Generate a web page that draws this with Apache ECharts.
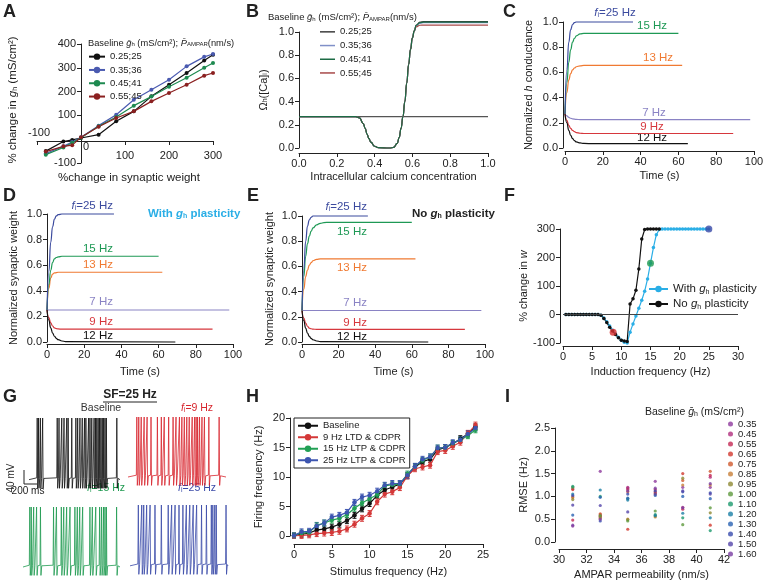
<!DOCTYPE html>
<html>
<head>
<meta charset="utf-8">
<title>gh plasticity figure</title>
<script src="https://cdn.jsdelivr.net/npm/echarts@6/dist/echarts.min.js"></script>
<style>
  html, body { margin: 0; padding: 0; background: #fff; }
  #chart { width: 771px; height: 585px; }
</style>
</head>
<body>
<div id="chart"></div>
<script>
// ---------- data ----------
// A: % change in gh vs % change in synaptic weight
const aWeight = [-80, -40, -20, 0, 40, 80, 120, 160, 200, 240, 280, 300];
const aBlack = [-50, -10, -3, 5, 19, 75, 117, 180, 229, 278, 331, 355];
const aBlue  = [-60, -30, -12, 8, 57, 103, 166, 208, 250, 306, 346, 358];
const aGreen = [-65, -35, -15, 6, 54, 93, 141, 179, 220, 258, 300, 320];
const aRed   = [-52, -30, -25, 8, 52, 89, 117, 159, 194, 229, 267, 278];
const aNames = ['0.25;25', '0.35;36', '0.45;41', '0.55;45'];

// B: Omega_h([Ca]i)
const bCa     = [0, 0.30, 0.32, 0.34, 0.35, 0.36, 0.37, 0.38, 0.40, 0.42, 0.48, 0.50, 0.52, 0.53, 0.54, 0.55, 0.56, 0.57, 0.58, 0.59, 0.60, 0.61];
const bShared = [0.27, 0.27, 0.26, 0.21, 0.17, 0.12, 0.08, 0.05, 0.015, 0.003, 0.0, 0.005, 0.04, 0.09, 0.17, 0.27, 0.40, 0.56, 0.72, 0.85, 0.95, 1.01];
const bTailCa = [0.62, 0.64, 0.66, 1.0];
const bTailBlack = [1.06, 1.085, 1.09, 1.09];
const bTailBlue  = [1.055, 1.075, 1.08, 1.08];
const bTailGreen = [1.058, 1.08, 1.085, 1.085];
const bTailRed   = [1.045, 1.058, 1.06, 1.06];
const bRefLevel = 0.27;

// C: normalized h conductance vs time
const c25t = [0, 1, 2, 3, 4, 5, 6, 8, 36];            const c25 = [0.27, 0.62, 0.84, 0.94, 0.98, 0.995, 1, 1, 1];
const c15t = [0, 1, 2, 3, 4, 5, 6, 8, 10, 15, 60];    const c15 = [0.27, 0.52, 0.68, 0.78, 0.84, 0.87, 0.89, 0.905, 0.91, 0.91, 0.91];
const c13t = [0, 1, 2, 3, 4, 5, 6, 8, 10, 15, 62];    const c13 = [0.27, 0.44, 0.54, 0.59, 0.62, 0.635, 0.645, 0.652, 0.655, 0.655, 0.655];
const c7t  = [0, 1, 2, 3, 4, 6, 8, 98];               const c7  = [0.27, 0.255, 0.243, 0.236, 0.231, 0.227, 0.225, 0.225];
const c9t  = [0, 1, 2, 3, 4, 5, 6, 8, 10, 89];        const c9  = [0.27, 0.22, 0.18, 0.155, 0.14, 0.13, 0.122, 0.117, 0.115, 0.115];
const c12t = [0, 1, 2, 3, 4, 5, 6, 8, 10, 15, 65];    const c12 = [0.27, 0.2, 0.14, 0.1, 0.075, 0.058, 0.048, 0.04, 0.036, 0.035, 0.035];

// D: synaptic weight, with gh plasticity
const d25t = [0, 1, 2, 3, 4, 5, 6, 8, 36];            const d25 = [0.25, 0.55, 0.78, 0.9, 0.96, 0.985, 0.995, 1, 1];
const d15t = [0, 1, 2, 3, 4, 5, 6, 8, 10, 60];        const d15 = [0.25, 0.45, 0.56, 0.62, 0.65, 0.66, 0.665, 0.67, 0.67, 0.67];
const d13t = [0, 1, 2, 3, 4, 6, 62];                  const d13 = [0.25, 0.42, 0.5, 0.53, 0.54, 0.545, 0.545];
const d7t  = [0, 98];                                 const d7  = [0.25, 0.25];
const d9t  = [0, 1, 2, 3, 4, 5, 6, 8, 89];            const d9  = [0.25, 0.19, 0.15, 0.125, 0.11, 0.105, 0.102, 0.1, 0.1];
const d12t = [0, 1, 2, 3, 4, 5, 6, 8, 10, 69];        const d12 = [0.25, 0.17, 0.11, 0.07, 0.045, 0.028, 0.018, 0.008, 0.003, 0];

// E: synaptic weight, no gh plasticity
const e25t = [0, 1, 2, 3, 4, 5, 6, 8, 36];            const e25 = [0.25, 0.58, 0.8, 0.92, 0.97, 0.99, 1, 1, 1];
const e15t = [0, 1, 2, 3, 4, 5, 6, 8, 10, 12, 15, 60]; const e15 = [0.25, 0.52, 0.68, 0.78, 0.84, 0.88, 0.905, 0.93, 0.942, 0.948, 0.95, 0.95];
const e13t = [0, 1, 2, 3, 4, 5, 6, 8, 10, 15, 62];    const e13 = [0.25, 0.42, 0.52, 0.57, 0.61, 0.63, 0.645, 0.655, 0.66, 0.66, 0.66];
const e7t  = [0, 98];                                 const e7  = [0.25, 0.25];
const e9t  = [0, 1, 2, 3, 4, 5, 6, 8, 89];            const e9  = [0.25, 0.19, 0.15, 0.125, 0.11, 0.105, 0.102, 0.1, 0.1];
const e12t = [0, 1, 2, 3, 4, 5, 6, 8, 10, 69];        const e12 = [0.25, 0.17, 0.11, 0.07, 0.045, 0.028, 0.018, 0.008, 0.003, 0];

// F: % change in w vs induction frequency
const fFreq = [0.5, 1, 1.5, 2, 2.5, 3, 3.5, 4, 4.5, 5, 5.5, 6, 6.5, 7, 7.5, 8, 8.5, 9, 9.5, 10, 10.5, 11, 11.5, 12, 12.5,
               13, 13.5, 14, 14.5, 15, 15.5, 16, 16.5, 17, 17.5, 18, 18.5, 19, 19.5, 20, 20.5, 21, 21.5, 22, 22.5, 23, 23.5, 24, 24.5, 25];
const fWith = [0, 0, 0, 0, 0, 0, 0, 0, 0, 0, 0, 0, -3, -12, -25, -40, -55, -68, -80, -90, -97, -100, -62, -33, -5,
               22, 50, 82, 125, 180, 235, 280, 298, 300, 300, 300, 300, 300, 300, 300, 300, 300, 300, 300, 300, 300, 300, 300, 300, 300];
const fNo   = [0, 0, 0, 0, 0, 0, 0, 0, 0, 0, 0, 0, -3, -14, -28, -45, -58, -70, -82, -90, -93, -95, 37, 55, 85,
               160, 265, 298, 300, 300, 300, 300, 300];
const fMarks = [[8.6, -62], [15, 180], [25, 300]];

// G: spike times (% of trace length)
const gBase = [9, 10.5, 12.5, 15, 31, 33, 36, 38.5, 41.5, 43, 47, 51.5, 53.5, 56, 58.5, 61, 62.5, 65.5, 67, 69, 71.5, 73, 74.5, 76, 77.5, 79, 80.5, 82, 83.5, 85, 96.5];
const g9  = [9, 11, 13.5, 16.5, 19.5, 23.5, 30, 34, 37, 41.5, 46, 49, 52.5, 55, 57.5, 60, 62.5, 65.5, 68, 69.5, 71, 73, 75.5, 78, 82.5, 93];
const g15 = [7, 8.5, 11, 14, 18, 31.5, 34.5, 39.5, 42, 45, 48.5, 53.5, 56, 58.5, 61.5, 69, 71.5, 75, 79, 81, 83, 84.5, 86, 96.5];
const g25 = [8.5, 12, 14, 17, 20.5, 25.5, 32, 39, 42.5, 46, 50, 54, 57.5, 61, 64.5, 68, 73, 78, 83, 84.5, 86.5, 88, 98];

// H: firing frequency vs stimulus frequency
const hFreq = [0, 1, 2, 3, 4, 5, 6, 7, 8, 9, 10, 11, 12, 13, 14, 15, 16, 17, 18, 19, 20, 21, 22, 23, 24];
const hBase = [0.1, 0.3, 0.5, 1.0, 1.2, 1.5, 2.0, 2.6, 3.5, 4.6, 5.5, 6.9, 7.8, 8.3, 8.8, 10.2, 11.7, 12.6, 13.0, 14.6, 15.0, 15.6, 16.5, 17.3, 18.5];
const h9  = [0.0, 0.1, 0.2, 0.4, 0.5, 0.6, 0.8, 1.2, 2.0, 3.0, 3.8, 5.8, 7.1, 7.5, 8.2, 10.2, 11.4, 11.7, 12.0, 14.3, 14.5, 15.2, 15.9, 17.4, 18.8];
const h15 = [0.1, 0.5, 0.6, 1.8, 2.2, 2.7, 3.0, 3.6, 4.7, 5.6, 6.3, 7.0, 8.5, 8.7, 8.8, 10.5, 11.8, 12.8, 13.4, 14.9, 15.0, 15.7, 16.3, 17.0, 18.0];
const h25 = [0.1, 0.7, 0.8, 1.7, 2.2, 3.2, 3.5, 4.0, 5.7, 6.6, 6.9, 7.6, 8.6, 8.9, 8.9, 10.3, 11.8, 13.0, 13.4, 14.9, 15.0, 15.8, 16.3, 17.3, 18.3];
const hErr = [0.4, 0.5, 0.5, 0.5, 0.5, 0.5, 0.5, 0.5, 0.5, 0.5, 0.5, 0.5, 0.5, 0.5, 0.5, 0.5, 0.5, 0.5, 0.5, 0.5, 0.5, 0.5, 0.5, 0.5, 0.5];

// I: RMSE vs AMPAR permeability, one row per baseline gh
const iPerm = [31, 33, 35, 37, 39, 41];
const iGh = ['0.35', '0.45', '0.55', '0.65', '0.75', '0.85', '0.95', '1.00', '1.10', '1.20', '1.30', '1.40', '1.50', '1.60'];
const iRmse = [
  [0.35, 1.55, 1.18, 1.33, 1.20, 1.20],
  [1.17, 0.55, 1.20, 1.10, 0.76, 1.42],
  [0.48, 0.60, 1.15, 1.15, 0.72, 1.46],
  [1.15, 0.57, 0.28, 1.08, 1.50, 0.37],
  [0.99, 0.62, 1.10, 1.05, 1.35, 1.55],
  [0.97, 0.52, 0.50, 0.55, 1.25, 1.25],
  [0.93, 0.55, 0.49, 0.57, 1.40, 0.64],
  [1.20, 0.58, 0.46, 0.68, 0.38, 0.75],
  [1.22, 1.00, 0.95, 0.60, 0.53, 0.25],
  [1.05, 1.14, 0.92, 0.58, 0.63, 0.53],
  [0.59, 0.98, 0.96, 1.02, 1.00, 0.95],
  [1.02, 0.46, 1.05, 1.12, 1.10, 1.08],
  [0.81, 0.80, 0.66, 1.05, 1.12, 1.05],
  [0.37, 0.50, 1.12, 1.18, 0.75, 1.28]
];
const iColors = ['#8e3b9e', '#b0307e', '#c42a55', '#d23a30', '#cf5a2e', '#c8803a', '#8f8a35', '#5f9a3e',
                 '#1e9a6e', '#1c7fa6', '#2a63b3', '#3a4cae', '#5546aa', '#7a3fa2'];

// ---------- styles ----------
const FONT = '"Liberation Sans", Arial, Helvetica, sans-serif';
const INK = '#222';
const freqColors = { f25: '#3b4a9e', f15: '#1e9955', f13: '#f07a32', f7: '#8a83c4', f9: '#d6373d', f12: '#111111' };
const CYAN = '#2aaee6';

const RICH = {
  i: { fontStyle: 'italic' },
  s: { fontSize: 7, verticalAlign: 'bottom' }
};

function axis(grid, o) {
  const label = { color: INK, fontSize: 11, fontFamily: FONT, margin: o.margin || 5 };
  if (o.fmt) label.formatter = o.fmt;
  return {
    type: 'value', gridIndex: grid,
    min: o.min, max: o.max, interval: o.interval,
    offset: o.offset || 0,
    name: o.name || '', nameLocation: 'middle', nameGap: o.gap || 20,
    nameTextStyle: { color: INK, fontSize: 11, fontFamily: FONT, rich: RICH },
    axisLine: { show: true, onZero: false, lineStyle: { color: INK, width: 1 } },
    axisTick: { show: true, length: 4, lineStyle: { color: INK } },
    axisLabel: label,
    splitLine: { show: false }
  };
}
function hidden(grid, min, max) {
  return { type: 'value', gridIndex: grid, min, max, show: false };
}
const f1 = v => v.toFixed(1);

function richFor(color, size, bold) {
  const w = bold ? 'bold' : 'normal';
  return {
    i: { fill: color, fontSize: size, fontFamily: FONT, fontStyle: 'italic', fontWeight: w },
    s: { fill: color, fontSize: Math.round(size * 0.62), fontFamily: FONT, fontWeight: w, verticalAlign: 'bottom' }
  };
}
function txt(x, y, text, o) {
  o = o || {};
  const color = o.color || INK, size = o.size || 11;
  return {
    type: 'text', x, y, rotation: o.rot || 0, silent: true,
    style: {
      text, fill: color, fontSize: size, fontFamily: FONT,
      fontWeight: o.bold ? 'bold' : 'normal',
      align: o.align || 'left', verticalAlign: 'middle',
      rich: richFor(color, size, o.bold)
    }
  };
}
function hline(x1, x2, y, color) {
  return { type: 'line', silent: true, shape: { x1, y1: y, x2, y2: y }, style: { stroke: color || INK, lineWidth: 1 } };
}
function vline(x, y1, y2, color) {
  return { type: 'line', silent: true, shape: { x1: x, y1, x2: x, y2 }, style: { stroke: color || INK, lineWidth: 1 } };
}

function zip(xs, ys) { return xs.map((x, k) => [x, ys[k]]); }

function curve(name, idx, xs, ys, color) {
  return {
    name, type: 'line', xAxisIndex: idx, yAxisIndex: idx,
    data: zip(xs, ys), symbol: 'none', smooth: true, smoothMonotone: 'x', clip: false,
    lineStyle: { color, width: 1.2 }, itemStyle: { color }
  };
}
function dotted(name, idx, xs, ys, color, size) {
  return {
    name, type: 'line', xAxisIndex: idx, yAxisIndex: idx,
    data: zip(xs, ys), symbol: 'circle', symbolSize: size, showSymbol: true,
    lineStyle: { color, width: 1.2 }, itemStyle: { color }
  };
}

// voltage trace built from read spike times
function trace(spikes) {
  const pts = [[0, 0]];
  spikes.forEach(t => { pts.push([t - 0.5, 0.03], [t, 1], [t + 0.5, -0.14], [t + 1.3, 0.02]); });
  pts.push([100, 0]);
  return pts;
}
function traceSeries(idx, spikes, color) {
  return {
    type: 'line', xAxisIndex: idx, yAxisIndex: idx, data: trace(spikes), symbol: 'none',
    lineStyle: { color, width: 0.8 }, silent: true
  };
}

function errSeries(name, vals, color) {
  return {
    name, type: 'custom', xAxisIndex: 10, yAxisIndex: 10, silent: true,
    data: vals.map((v, k) => [hFreq[k], v, hErr[k]]),
    renderItem: (params, api) => {
      const x = api.value(0), y = api.value(1), e = api.value(2);
      const lo = api.coord([x, y - e]), hi = api.coord([x, y + e]);
      const s = { stroke: color, lineWidth: 1 };
      return {
        type: 'group', children: [
          { type: 'line', shape: { x1: lo[0], y1: lo[1], x2: hi[0], y2: hi[1] }, style: s },
          { type: 'line', shape: { x1: lo[0] - 2, y1: lo[1], x2: lo[0] + 2, y2: lo[1] }, style: s },
          { type: 'line', shape: { x1: hi[0] - 2, y1: hi[1], x2: hi[0] + 2, y2: hi[1] }, style: s }
        ]
      };
    }
  };
}

const legendText = { color: INK, fontFamily: FONT, rich: RICH };

// ---------- chart ----------
const chart = echarts.init(document.getElementById('chart'));

const series = [];
// A
[aBlack, aBlue, aGreen, aRed].forEach((ys, k) => {
  const col = ['#111111', '#4a5ab0', '#1e8a50', '#8b2020'][k];
  series.push(dotted('A ' + aNames[k], 0, aWeight, ys, col, 4));
});
// B
const bCols = ['#3d3d3d', '#8090c8', '#1c6b45', '#a84a4a'];
[bTailBlack, bTailBlue, bTailRed, bTailGreen].forEach((tail, k) => {
  const n = [0, 1, 3, 2][k];
  series.push(curve('B ' + aNames[n], 1, bCa.concat(bTailCa), bShared.concat(tail), bCols[n]));
});
series.push({ type: 'line', xAxisIndex: 1, yAxisIndex: 1, data: [[0, bRefLevel], [1, bRefLevel]], symbol: 'none',
  lineStyle: { color: '#555', width: 1.2 }, silent: true, z: 1 });
// C, D, E
series.push(
  curve('c7', 2, c7t, c7, freqColors.f7), curve('c9', 2, c9t, c9, freqColors.f9), curve('c12', 2, c12t, c12, freqColors.f12),
  curve('c13', 2, c13t, c13, freqColors.f13), curve('c15', 2, c15t, c15, freqColors.f15), curve('c25', 2, c25t, c25, freqColors.f25),
  curve('d7', 3, d7t, d7, freqColors.f7), curve('d9', 3, d9t, d9, freqColors.f9), curve('d12', 3, d12t, d12, freqColors.f12),
  curve('d13', 3, d13t, d13, freqColors.f13), curve('d15', 3, d15t, d15, freqColors.f15), curve('d25', 3, d25t, d25, freqColors.f25),
  curve('e7', 4, e7t, e7, freqColors.f7), curve('e9', 4, e9t, e9, freqColors.f9), curve('e12', 4, e12t, e12, freqColors.f12),
  curve('e13', 4, e13t, e13, freqColors.f13), curve('e15', 4, e15t, e15, freqColors.f15), curve('e25', 4, e25t, e25, freqColors.f25)
);
// F
const fWithS = dotted('Fw', 5, fFreq, fWith, CYAN, 3.5);
fWithS.markLine = { silent: true, symbol: 'none', label: { show: false },
  lineStyle: { color: '#444', width: 1, type: 'solid' }, data: [{ yAxis: 0 }] };
series.push(fWithS, dotted('Fn', 5, fFreq.slice(0, fNo.length), fNo, '#111111', 3.5));
series.push({ type: 'scatter', xAxisIndex: 5, yAxisIndex: 5, data: fMarks, symbolSize: 7, silent: true, z: 5,
  itemStyle: { color: p => ['#d83030', '#1e9a50', '#3a4aa8'][p.dataIndex] } });
// G
series.push(traceSeries(6, gBase, '#111111'), traceSeries(7, g9, '#d8262e'),
            traceSeries(8, g15, '#1f9a50'), traceSeries(9, g25, '#3a4aa8'));
// H
const hCols = ['#111111', '#d43838', '#22a055', '#3d55b0'];
const hNames = ['Baseline', '9 Hz LTD & CDPR', '15 Hz LTP & CDPR', '25 Hz LTP & CDPR'];
[hBase, h9, h15, h25].forEach((ys, k) => {
  series.push(errSeries(hNames[k] + ' err', ys, hCols[k]));
  series.push(dotted(hNames[k], 10, hFreq, ys, hCols[k], 4.5));
});
// I
iGh.forEach((g, k) => {
  series.push({ name: g, type: 'scatter', xAxisIndex: 11, yAxisIndex: 11, data: zip(iPerm, iRmse[k]),
    symbol: 'circle', symbolSize: 3.2, itemStyle: { color: iColors[k] } });
});

const graphics = [
  // panel letters
  txt(3, 12, 'A', { size: 18, bold: true }), txt(246, 12, 'B', { size: 18, bold: true }), txt(503, 12, 'C', { size: 18, bold: true }),
  txt(3, 196, 'D', { size: 18, bold: true }), txt(247, 196, 'E', { size: 18, bold: true }), txt(504, 196, 'F', { size: 18, bold: true }),
  txt(3, 397, 'G', { size: 18, bold: true }), txt(246, 397, 'H', { size: 18, bold: true }), txt(505, 397, 'I', { size: 18, bold: true }),
  // A
  txt(88, 43, 'Baseline {i|ḡ}{s|h} (mS/cm²); {i|P̄}{s|AMPAR}(nm/s)', { size: 9.3 }),
  txt(13, 100, '% change in {i|g}{s|h} (mS/cm²)', { size: 11.5, rot: Math.PI / 2, align: 'center' }),
  txt(129, 178, '%change in synaptic weight', { size: 11.5, align: 'center' }),
  txt(39, 133, '-100', { align: 'center' }), txt(86, 147, '0', { align: 'center' }),
  // B
  txt(268, 17, 'Baseline {i|ḡ}{s|h} (mS/cm²); {i|P̄}{s|AMPAR}(nm/s)', { size: 9.5 }),
  // C labels
  txt(615, 13, '{i|f}{s|i}=25 Hz', { color: freqColors.f25, size: 11.5, align: 'center' }),
  txt(652, 26, '15 Hz', { color: freqColors.f15, size: 11.5, align: 'center' }),
  txt(658, 58, '13 Hz', { color: freqColors.f13, size: 11.5, align: 'center' }),
  txt(654, 113, '7 Hz', { color: freqColors.f7, size: 11.5, align: 'center' }),
  txt(652, 127, '9 Hz', { color: freqColors.f9, size: 11.5, align: 'center' }),
  txt(652, 138, '12 Hz', { color: freqColors.f12, size: 11.5, align: 'center' }),
  // D labels
  txt(113, 206, '{i|f}{s|i}=25 Hz', { color: freqColors.f25, size: 11.5, align: 'right' }),
  txt(113, 249, '15 Hz', { color: freqColors.f15, size: 11.5, align: 'right' }),
  txt(113, 265, '13 Hz', { color: freqColors.f13, size: 11.5, align: 'right' }),
  txt(113, 302, '7 Hz', { color: freqColors.f7, size: 11.5, align: 'right' }),
  txt(113, 322, '9 Hz', { color: freqColors.f9, size: 11.5, align: 'right' }),
  txt(113, 336, '12 Hz', { color: freqColors.f12, size: 11.5, align: 'right' }),
  txt(148, 214, 'With {i|g}{s|h} plasticity', { color: CYAN, size: 11.5, bold: true }),
  // E labels
  txt(367, 207, '{i|f}{s|i}=25 Hz', { color: freqColors.f25, size: 11.5, align: 'right' }),
  txt(367, 232, '15 Hz', { color: freqColors.f15, size: 11.5, align: 'right' }),
  txt(367, 268, '13 Hz', { color: freqColors.f13, size: 11.5, align: 'right' }),
  txt(367, 303, '7 Hz', { color: freqColors.f7, size: 11.5, align: 'right' }),
  txt(367, 323, '9 Hz', { color: freqColors.f9, size: 11.5, align: 'right' }),
  txt(367, 337, '12 Hz', { color: freqColors.f12, size: 11.5, align: 'right' }),
  txt(412, 214, 'No {i|g}{s|h} plasticity', { size: 11.5, bold: true }),
  // G
  txt(130, 395, 'SF=25 Hz', { size: 12, bold: true, align: 'center' }), hline(103, 157, 402),
  txt(101, 408, 'Baseline', { size: 10.5, color: '#333', align: 'center' }),
  txt(197, 408, '{i|f}{s|i}=9 Hz', { size: 10.5, color: '#d8262e', align: 'center' }),
  txt(106, 488, '{i|f}{s|i}=15 Hz', { size: 10.5, color: '#1f9a50', align: 'center' }),
  txt(197, 488, '{i|f}{s|i}=25 Hz', { size: 10.5, color: '#3a4aa8', align: 'center' }),
  vline(24, 470, 484), hline(24, 37, 484),
  txt(11, 478, '40 mV', { size: 10, rot: Math.PI / 2, align: 'center' }),
  txt(28, 491, '200 ms', { size: 10, align: 'center' }),
  // I
  txt(645, 412, 'Baseline {i|ḡ}{s|h} (mS/cm²)', { size: 10.5 })
];

const option = {
  animation: false,
  textStyle: { fontFamily: FONT },
  grid: [
    { left: 37, top: 44, width: 176, height: 119 },
    { left: 299, top: 32, width: 189, height: 116 },
    { left: 565, top: 22, width: 189, height: 126 },
    { left: 47, top: 214, width: 186, height: 128 },
    { left: 302, top: 216, width: 183, height: 126 },
    { left: 563, top: 229, width: 175, height: 114 },
    { left: 29, top: 418, width: 91, height: 74 },
    { left: 128, top: 417, width: 98, height: 72 },
    { left: 23, top: 507, width: 97, height: 72 },
    { left: 130, top: 505, width: 98, height: 73 },
    { left: 294, top: 418, width: 189, height: 118 },
    { left: 559, top: 428, width: 165, height: 114 }
  ].map(g => Object.assign({ outerBoundsMode: 'none', containLabel: false }, g)),
  xAxis: [
    // A: axis drawn through y = 0 by shifting it up from the grid's bottom edge
    axis(0, { min: -100, max: 300, interval: 100, offset: -22, margin: 9, fmt: v => (v === -100 || v === 0) ? '' : v }),
    axis(1, { min: 0, max: 1, interval: 0.2, offset: 5, fmt: f1, name: 'Intracellular calcium concentration', gap: 18 }),
    axis(2, { min: 0, max: 100, interval: 20, offset: 3, name: 'Time (s)', gap: 19 }),
    axis(3, { min: 0, max: 100, interval: 20, offset: 2, name: 'Time (s)', gap: 22 }),
    axis(4, { min: 0, max: 100, interval: 20, offset: 2, name: 'Time (s)', gap: 22 }),
    axis(5, { min: 0, max: 30, interval: 5, offset: 3, name: 'Induction frequency (Hz)', gap: 20 }),
    hidden(6, 0, 100), hidden(7, 0, 100), hidden(8, 0, 100), hidden(9, 0, 100),
    axis(10, { min: 0, max: 25, interval: 5, offset: 8, name: 'Stimulus frequency (Hz)', gap: 22 }),
    axis(11, { min: 30, max: 42, interval: 2, offset: 7, name: 'AMPAR permeability (nm/s)', gap: 20 })
  ],
  yAxis: [
    // A: axis drawn through x = 0 by shifting it right from the grid's left edge
    axis(0, { min: -100, max: 400, interval: 100, offset: -44, fmt: v => v === 0 ? '' : v }),
    axis(1, { min: 0, max: 1, interval: 0.2, fmt: f1, name: 'Ω{s|h}([Ca]{s|i})', gap: 30 }),
    axis(2, { min: 0, max: 1, interval: 0.2, offset: 2, fmt: f1, name: 'Normalized {i|h} conductance', gap: 29 }),
    axis(3, { min: 0, max: 1, interval: 0.2, fmt: f1, name: 'Normalized synaptic weight', gap: 28 }),
    axis(4, { min: 0, max: 1, interval: 0.2, fmt: f1, name: 'Normalized synaptic weight', gap: 27 }),
    axis(5, { min: -100, max: 300, interval: 100, offset: 3, name: '% change in {i|w}', gap: 31 }),
    hidden(6, -0.2, 1), hidden(7, -0.2, 1), hidden(8, -0.2, 1), hidden(9, -0.2, 1),
    axis(10, { min: 0, max: 20, interval: 5, offset: 4, name: 'Firing frequency (Hz)', gap: 26 }),
    axis(11, { min: 0, max: 2.5, interval: 0.5, offset: 4, fmt: f1, name: 'RMSE (Hz)', gap: 26 })
  ],
  legend: [
    { data: aNames.map(n => 'A ' + n), formatter: n => n.slice(2), orient: 'vertical', left: 88, top: 50,
      itemWidth: 16, itemHeight: 8, itemGap: 0, padding: 0, selectedMode: false,
      textStyle: Object.assign({ fontSize: 9.5, lineHeight: 13.3 }, legendText) },
    { data: aNames.map(n => 'B ' + n), formatter: n => n.slice(2), orient: 'vertical', left: 320, top: 25,
      icon: 'rect', itemWidth: 15, itemHeight: 1.5, itemGap: 0, padding: 0, selectedMode: false,
      textStyle: Object.assign({ fontSize: 9.5, lineHeight: 13.7 }, legendText) },
    { data: ['Fw', 'Fn'], formatter: n => (n === 'Fw' ? 'With' : 'No') + ' {i|g}{s|h} plasticity',
      orient: 'vertical', left: 648, top: 282, itemWidth: 19, itemHeight: 8, itemGap: 1, padding: 0, selectedMode: false,
      textStyle: Object.assign({ fontSize: 11.5, lineHeight: 14 }, legendText) },
    { data: hNames, orient: 'vertical', left: 294, top: 418, itemWidth: 20, itemHeight: 8, itemGap: 0,
      padding: [2, 4, 2, 3], borderColor: INK, borderWidth: 1, borderRadius: 0, selectedMode: false,
      textStyle: Object.assign({ fontSize: 9.5, lineHeight: 11.5 }, legendText) },
    { data: iGh, orient: 'vertical', left: 728, top: 419, itemWidth: 5, itemHeight: 5, itemGap: 0, padding: 0,
      icon: 'circle', selectedMode: false,
      textStyle: Object.assign({ fontSize: 9.5, lineHeight: 9.7 }, legendText) }
  ],
  graphic: graphics,
  series
};

chart.setOption(option);
</script>
</body>
</html>
